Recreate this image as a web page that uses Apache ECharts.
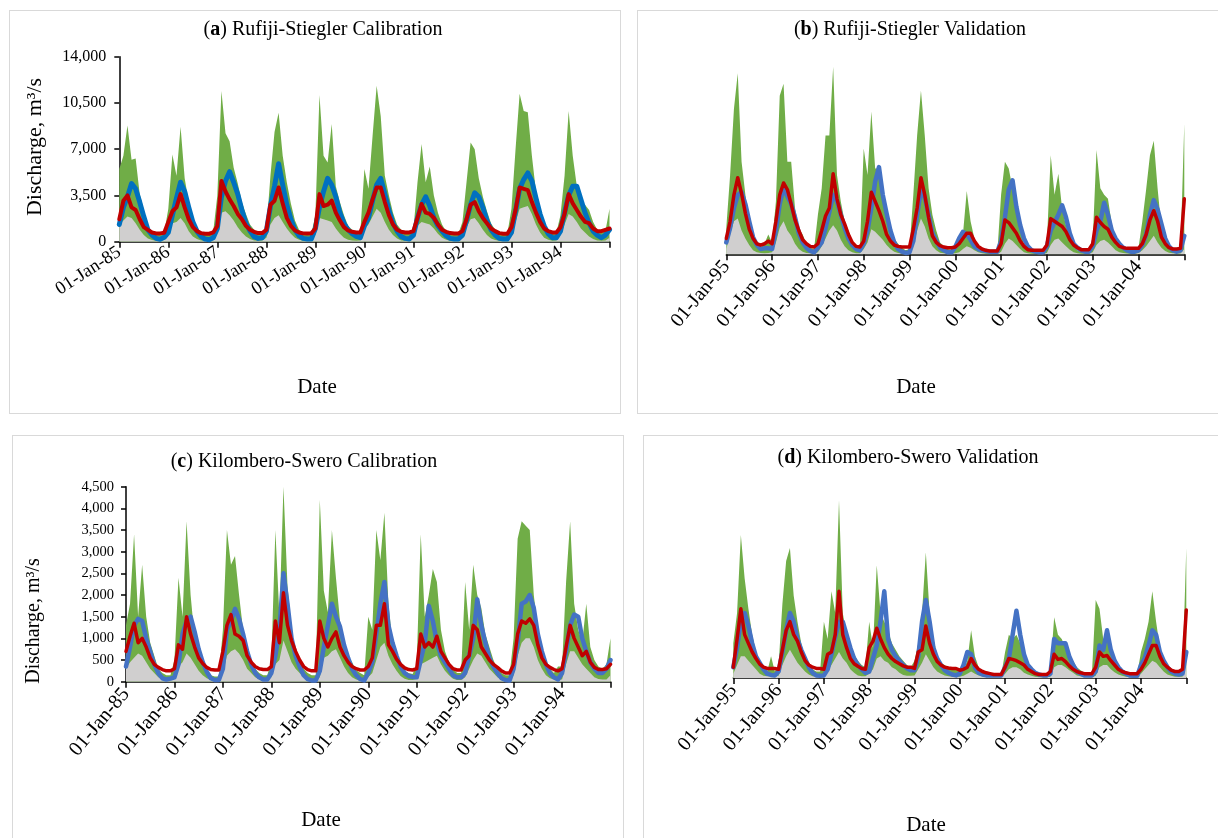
<!DOCTYPE html>
<html>
<head>
<meta charset="utf-8">
<script src="https://cdn.jsdelivr.net/npm/echarts@6/dist/echarts.min.js"></script>
<style>
  body { margin: 0; background: #fff; width: 1218px; height: 838px; position: relative; overflow: hidden; }
  .panel { position: absolute; outline: 1.5px solid #d9d9d9; outline-offset: -1.5px; }
</style>
</head>
<body>
<div id="pa" class="panel" style="left:9px;top:10px;width:612px;height:404px"></div>
<div id="pb" class="panel" style="left:637px;top:10px;width:600px;height:404px"></div>
<div id="pc" class="panel" style="left:12px;top:435px;width:612px;height:410px"></div>
<div id="pd" class="panel" style="left:643px;top:435px;width:600px;height:410px"></div>
<script>
// monthly values (1st of each month), one row per year, last row ends with 1st Jan of the closing year
const calTicks = ['01-Jan-85', '01-Jan-86', '01-Jan-87', '01-Jan-88', '01-Jan-89',
  '01-Jan-90', '01-Jan-91', '01-Jan-92', '01-Jan-93', '01-Jan-94'];
const valTicks = ['01-Jan-95', '01-Jan-96', '01-Jan-97', '01-Jan-98', '01-Jan-99',
  '01-Jan-00', '01-Jan-01', '01-Jan-02', '01-Jan-03', '01-Jan-04'];

// (a) Rufiji-Stiegler calibration
const rufijiCalUpper = [
  5500, 6500, 8800, 6200, 6300, 3600, 2400, 1100, 800, 600, 600, 700,
  2500, 6600, 5000, 8700, 4800, 3000, 1800, 1000, 700, 550, 550, 800,
  3500, 11400, 8200, 7600, 5600, 4400, 3000, 2100, 1300, 900, 700, 700,
  900, 5000, 8300, 9750, 6500, 4500, 2900, 1600, 900, 650, 600, 600,
  2000, 11100, 6500, 6000, 8900, 4200, 3000, 2000, 1200, 900, 700, 700,
  5500, 4000, 8000, 11800, 9500, 5000, 3500, 2200, 1300, 900, 700, 700,
  900, 4500, 7400, 4500, 5700, 3500, 2200, 1300, 800, 600, 600, 600,
  1500, 4500, 7500, 7000, 4800, 3400, 2300, 1400, 900, 700, 600, 600,
  2500, 7000, 11200, 9900, 9800, 6500, 3800, 2500, 1500, 900, 700, 700,
  2000, 5000, 9900, 6500, 4200, 3000, 2800, 2400, 1500, 900, 700, 800, 2500
];
const rufijiCalLower = [
  1300, 1600, 1900, 1800, 1400, 900, 500, 250, 120, 80, 80, 150,
  900, 1400, 1500, 1800, 1400, 800, 400, 200, 100, 80, 80, 150,
  800, 2200, 2300, 2000, 1600, 1100, 700, 400, 200, 100, 80, 100,
  300, 1300, 1800, 2000, 1500, 1000, 600, 300, 150, 80, 80, 100,
  500, 1800, 1700, 1600, 1500, 1000, 600, 300, 150, 100, 80, 100,
  1000, 1300, 1900, 2500, 2200, 1500, 900, 500, 250, 100, 80, 80,
  300, 1200, 1500, 1400, 1300, 1000, 600, 300, 150, 80, 80, 80,
  400, 1100, 1700, 1800, 1400, 900, 500, 250, 120, 80, 80, 80,
  500, 1500, 2500, 2600, 2700, 2100, 1300, 700, 300, 150, 80, 100,
  500, 1300, 2100, 1900, 1500, 1000, 700, 400, 200, 100, 80, 100, 300
];
const rufijiCalObs = [
  1300, 2600, 3400, 4400, 4000, 3000, 1900, 900, 500, 250, 180, 330,
  700, 2000, 3300, 4500, 3800, 2600, 1500, 800, 400, 200, 150, 300,
  1000, 3400, 4600, 5300, 4500, 3600, 2400, 1400, 800, 380, 250, 300,
  800, 2700, 4200, 5900, 4300, 2800, 1700, 900, 450, 250, 200, 200,
  1000, 2600, 3800, 4800, 4300, 3400, 2200, 1400, 900, 600, 400, 300,
  1200, 1800, 3100, 4300, 4800, 3600, 2400, 1400, 800, 400, 250, 200,
  500, 1800, 2800, 3400, 2700, 1800, 1200, 800, 450, 250, 200, 200,
  500, 1600, 2800, 3700, 3400, 2600, 1600, 900, 500, 250, 200, 200,
  700, 2300, 4000, 4700, 5200, 4600, 3300, 2100, 1200, 600, 300, 300,
  800, 2200, 3500, 4200, 4200, 3200, 2200, 1400, 800, 500, 300, 500, 900
];
const rufijiCalSim = [
  1700, 3100, 3500, 2600, 2400, 1700, 1100, 900, 700, 630, 630, 680,
  1500, 2300, 2600, 3600, 2600, 1700, 1100, 800, 650, 600, 600, 700,
  1200, 4600, 3800, 3200, 2700, 2100, 1700, 1200, 900, 750, 650, 650,
  900, 2800, 3100, 4100, 2900, 1800, 1200, 850, 700, 630, 620, 630,
  1000, 3600, 2700, 2800, 3100, 2200, 1600, 1100, 850, 750, 700, 700,
  1500, 2200, 3200, 4100, 4100, 3000, 2000, 1300, 900, 750, 700, 700,
  800, 1800, 2850, 2200, 2100, 1800, 1300, 900, 750, 650, 620, 620,
  800, 1700, 2800, 3000, 2300, 1800, 1400, 1000, 800, 650, 600, 600,
  1100, 2400, 4100, 4000, 3900, 3000, 2200, 1500, 1000, 800, 700, 700,
  1100, 2100, 3600, 2900, 2400, 1900, 1500, 1400, 1000, 800, 800, 900, 1000
];

// (b) Rufiji-Stiegler validation
const rufijiValUpper = [
  2000, 6000, 11000, 13700, 7000, 4500, 2600, 1500, 700, 500, 800, 1500,
  900, 4000, 12000, 12900, 7000, 7000, 3500, 2000, 1500, 800, 500, 400,
  3000, 5000, 9000, 9000, 14200, 6000, 4000, 2500, 1800, 1000, 600, 400,
  8000, 6000, 10800, 6500, 6500, 4500, 3000, 1800, 1200, 800, 500, 300,
  400, 4500, 9000, 12400, 9000, 5000, 3000, 1800, 900, 600, 400, 350,
  400, 900, 1500, 4800, 2500, 1200, 700, 400, 200, 100, 100, 100,
  4500, 7000, 6500, 5000, 3600, 2000, 700, 300, 150, 100, 100, 100,
  900, 7500, 4500, 6100, 3400, 2200, 1300, 600, 300, 200, 150, 150,
  1000, 7900, 5000, 4500, 4200, 2300, 1200, 600, 400, 250, 200, 200,
  500, 2500, 4900, 7500, 8600, 5000, 2000, 1000, 600, 400, 300, 300, 9900
];
const rufijiValLower = [
  400, 1500, 2500, 2700, 1800, 1200, 700, 300, 150, 100, 80, 100,
  150, 900, 2000, 2500, 1800, 1400, 800, 400, 200, 100, 80, 80,
  150, 600, 1200, 1800, 2200, 1800, 1100, 600, 300, 150, 80, 80,
  400, 900, 1900, 1700, 1400, 1100, 700, 400, 200, 100, 60, 60,
  80, 600, 1800, 2700, 2100, 1200, 600, 300, 120, 80, 60, 60,
  80, 150, 400, 600, 500, 300, 150, 80, 50, 30, 30, 30,
  200, 800, 1200, 1000, 700, 400, 150, 80, 50, 30, 30, 30,
  100, 700, 1100, 1200, 900, 600, 350, 150, 80, 50, 40, 40,
  150, 700, 1000, 1100, 900, 600, 300, 150, 100, 60, 50, 50,
  100, 300, 600, 1000, 1400, 900, 500, 250, 120, 80, 60, 60, 400
];
const rufijiValObs = [
  900, 2000, 3500, 4500, 4700, 3800, 2500, 1300, 700, 400, 450, 450,
  400, 1800, 3800, 5000, 4400, 3800, 2800, 1600, 900, 500, 250, 150,
  500, 900, 2000, 3200, 4500, 4000, 3000, 2000, 1200, 700, 400, 300,
  800, 1800, 3500, 5500, 6600, 4500, 3100, 1800, 900, 400, 200, 100,
  150, 1000, 3000, 4800, 4300, 3000, 1600, 1000, 500, 300, 150, 150,
  550, 1200, 1700, 1500, 1100, 600, 400, 300, 250, 200, 200, 200,
  1000, 2800, 4900, 5600, 3600, 2200, 1200, 600, 300, 200, 150, 150,
  600, 1800, 2400, 3000, 3700, 2800, 1600, 800, 500, 300, 200, 200,
  600, 1800, 2500, 3900, 3000, 1800, 1200, 800, 500, 300, 200, 200,
  300, 700, 1500, 3000, 4100, 3400, 2300, 1200, 600, 300, 200, 300, 1400
];
const rufijiValSim = [
  1200, 2500, 4500, 5800, 4600, 3100, 1900, 1200, 800, 700, 800, 1000,
  800, 2500, 4500, 5400, 4900, 3800, 2600, 1800, 1100, 800, 600, 550,
  800, 1800, 2900, 3500, 6100, 4200, 3000, 2300, 1500, 900, 600, 550,
  1000, 2500, 4700, 4000, 3300, 2500, 1500, 1000, 700, 600, 550, 550,
  550, 1900, 3500, 5800, 4500, 2800, 1400, 900, 650, 550, 500, 500,
  550, 800, 1200, 1600, 1600, 1000, 600, 400, 300, 250, 250, 250,
  800, 2600, 2400, 2000, 1600, 1000, 600, 350, 300, 300, 300, 300,
  700, 2700, 2500, 2300, 2100, 1700, 1100, 700, 500, 350, 350, 350,
  800, 2800, 2400, 2100, 1900, 1300, 900, 600, 500, 450, 450, 450,
  450, 800, 1500, 2600, 3300, 2500, 1300, 800, 500, 400, 400, 450, 4200
];

// (c) Kilombero-Swero calibration
const kilomberoCalUpper = [
  1300, 1800, 3400, 1500, 2700, 1500, 900, 600, 300, 200, 150, 150,
  500, 2400, 1500, 3700, 2000, 1000, 700, 450, 250, 150, 120, 120,
  1200, 3500, 2700, 2900, 2000, 1200, 800, 500, 300, 200, 150, 150,
  500, 3500, 1500, 4500, 2200, 1200, 700, 450, 300, 200, 150, 150,
  4200, 2100, 1600, 3500, 2400, 1400, 950, 600, 450, 270, 200, 150,
  1500, 1200, 3500, 2800, 3900, 1800, 900, 600, 350, 250, 200, 180,
  400, 3400, 1500, 2000, 2600, 2300, 1200, 700, 450, 300, 200, 200,
  2300, 1200, 2700, 2000, 1700, 1100, 800, 500, 300, 200, 150, 150,
  1000, 3300, 3700, 3600, 3500, 2000, 1200, 700, 450, 300, 200, 350,
  350, 2300, 3700, 1800, 1200, 900, 1800, 800, 500, 350, 300, 400, 1000
];
const kilomberoCalLower = [
  300, 450, 550, 650, 600, 450, 300, 200, 100, 60, 40, 40,
  60, 350, 450, 650, 550, 400, 250, 150, 80, 40, 30, 30,
  200, 600, 700, 750, 650, 500, 300, 200, 100, 50, 30, 30,
  100, 400, 500, 950, 700, 450, 300, 200, 100, 50, 30, 30,
  100, 550, 600, 700, 750, 550, 350, 200, 100, 50, 30, 30,
  100, 200, 500, 800, 900, 600, 400, 250, 130, 70, 40, 40,
  60, 400, 450, 500, 550, 600, 400, 250, 150, 70, 40, 40,
  100, 300, 500, 650, 600, 450, 300, 200, 100, 50, 30, 30,
  150, 600, 900, 1000, 1000, 800, 500, 300, 150, 80, 50, 50,
  50, 400, 700, 700, 550, 400, 300, 200, 100, 60, 50, 50, 150
];
const kilomberoCalObs = [
  350, 800, 1300, 1450, 1400, 1000, 700, 400, 200, 80, 50, 70,
  100, 400, 1100, 1400, 1500, 1150, 750, 450, 230, 80, 40, 40,
  300, 1200, 1400, 1680, 1450, 1100, 700, 400, 200, 100, 50, 50,
  200, 600, 1200, 2500, 1800, 1000, 600, 350, 150, 60, 30, 30,
  250, 800, 1300, 1800, 1500, 1270, 850, 550, 300, 150, 60, 30,
  200, 450, 1100, 1800, 2300, 1300, 900, 600, 350, 200, 130, 110,
  100, 500, 900, 1750, 1400, 900, 600, 450, 300, 150, 100, 100,
  200, 600, 1000, 1900, 1300, 900, 550, 350, 200, 80, 40, 30,
  300, 900, 1800, 1850, 2000, 1700, 1100, 700, 400, 200, 100, 50,
  200, 700, 1300, 1550, 1500, 1000, 700, 450, 300, 200, 200, 300, 500
];
const kilomberoCalSim = [
  700, 1050, 1350, 900, 1000, 800, 550, 400, 330, 280, 250, 250,
  300, 850, 750, 1500, 1100, 800, 550, 420, 330, 280, 270, 270,
  700, 1300, 1550, 1100, 1050, 950, 600, 450, 350, 300, 280, 280,
  350, 1400, 900, 2050, 1300, 950, 700, 500, 350, 280, 250, 250,
  1400, 1000, 800, 1000, 1150, 800, 600, 450, 350, 300, 270, 270,
  350, 550, 1300, 1300, 1800, 850, 700, 520, 400, 320, 280, 270,
  300, 1100, 800, 900, 800, 1050, 700, 550, 400, 300, 270, 270,
  500, 600, 1300, 1200, 800, 650, 500, 400, 330, 250, 200, 200,
  400, 1100, 1400, 1350, 1450, 1300, 850, 550, 400, 330, 280, 250,
  300, 800, 1300, 1000, 800, 600, 700, 450, 330, 280, 280, 300, 400
];

// (d) Kilombero-Swero validation
const kilomberoValUpper = [
  800, 1500, 3300, 2300, 1600, 1000, 600, 350, 200, 150, 500, 150,
  300, 1700, 2700, 3000, 1900, 1300, 800, 450, 300, 200, 150, 150,
  1300, 900, 2000, 1500, 4100, 1500, 1000, 800, 550, 400, 300, 250,
  1300, 700, 2600, 1500, 1300, 1100, 800, 650, 500, 400, 300, 250,
  400, 800, 1500, 2900, 1500, 900, 550, 350, 300, 250, 220, 200,
  150, 200, 400, 1100, 500, 250, 150, 100, 80, 80, 80, 80,
  600, 1000, 900, 1000, 800, 500, 350, 250, 150, 100, 80, 80,
  200, 1400, 1000, 900, 700, 550, 400, 250, 180, 120, 100, 100,
  1800, 1600, 900, 950, 650, 450, 300, 200, 150, 100, 100, 100,
  600, 900, 1300, 2000, 1300, 700, 450, 300, 200, 150, 120, 150, 3000
];
const kilomberoValLower = [
  100, 300, 500, 500, 400, 300, 200, 100, 50, 40, 40, 40,
  50, 300, 500, 650, 500, 350, 250, 150, 80, 40, 30, 30,
  80, 150, 300, 450, 600, 450, 350, 200, 120, 60, 40, 40,
  100, 200, 450, 500, 400, 350, 250, 200, 120, 70, 50, 50,
  60, 200, 350, 550, 400, 250, 150, 100, 60, 40, 30, 30,
  30, 50, 100, 150, 100, 60, 40, 30, 20, 20, 20, 20,
  100, 200, 250, 250, 200, 120, 80, 50, 30, 20, 20, 20,
  30, 250, 300, 300, 250, 180, 120, 60, 40, 30, 20, 20,
  50, 250, 300, 300, 200, 130, 80, 50, 30, 20, 20, 20,
  100, 200, 300, 400, 350, 250, 150, 80, 50, 30, 30, 30, 300
];
const kilomberoValObs = [
  250, 700, 1300, 1500, 1200, 800, 500, 350, 200, 100, 70, 60,
  150, 600, 1100, 1500, 1300, 900, 650, 450, 250, 120, 60, 50,
  60, 200, 550, 950, 1300, 1300, 1000, 700, 450, 300, 200, 120,
  150, 450, 750, 1300, 2000, 900, 650, 500, 400, 300, 220, 180,
  180, 500, 1300, 1800, 1300, 700, 450, 300, 180, 120, 80, 60,
  100, 300, 600, 550, 250, 120, 80, 60, 60, 60, 60, 60,
  250, 450, 1000, 1550, 1000, 550, 300, 200, 120, 80, 60, 60,
  100, 900, 800, 800, 800, 500, 300, 150, 100, 60, 60, 60,
  150, 750, 650, 1100, 650, 400, 250, 150, 100, 60, 50, 50,
  300, 450, 750, 1100, 1000, 600, 400, 250, 150, 100, 80, 100, 600
];
const kilomberoValSim = [
  250, 900, 1600, 1000, 800, 600, 450, 320, 250, 220, 220, 220,
  200, 650, 1100, 1300, 1000, 850, 600, 400, 300, 250, 220, 220,
  200, 550, 600, 1000, 2000, 1000, 700, 450, 330, 270, 220, 200,
  700, 850, 1150, 900, 700, 550, 450, 380, 330, 280, 250, 250,
  220, 600, 650, 1200, 800, 550, 380, 300, 250, 230, 220, 220,
  180, 200, 250, 450, 300, 200, 150, 120, 100, 80, 80, 80,
  250, 450, 430, 400, 350, 300, 200, 150, 100, 80, 80, 80,
  150, 550, 430, 450, 380, 280, 200, 150, 120, 100, 100, 100,
  250, 600, 500, 520, 400, 300, 200, 150, 120, 100, 100, 100,
  200, 350, 550, 750, 750, 500, 330, 250, 180, 150, 150, 200, 1570
];

const SERIF = '"Liberation Serif", "DejaVu Serif", serif';
const GREEN = '#70ad47';
const GREY = '#d0cfcf';
const RED = '#c00000';

function toPoints(start, values) {
  return values.map((v, i) => [start + i / 12, v]);
}

function bandSeries(data, color) {
  return {
    type: 'line', data, symbol: 'none', silent: true,
    lineStyle: {width: 0},
    areaStyle: {color, opacity: 1}
  };
}

function lineSeries(data, color, width) {
  return {
    type: 'line', data, symbol: 'none', silent: true,
    lineStyle: {color, width, join: 'round', cap: 'round'}
  };
}

function drawPanel(p) {
  const chart = echarts.init(document.getElementById(p.id));
  const graphic = [
    {
      type: 'text', x: p.titlePos[0], y: p.titlePos[1],
      style: {
        text: '({b|' + p.letter + '}) ' + p.name,
        fill: '#000', fontFamily: SERIF, fontSize: 20,
        align: 'center', verticalAlign: 'middle',
        rich: {b: {fontWeight: 'bold', fontFamily: SERIF, fontSize: 20, fill: '#000'}}
      }
    },
    {
      type: 'text', x: p.datePos[0], y: p.datePos[1],
      style: {text: 'Date', fill: '#000', fontFamily: SERIF, fontSize: 21, align: 'center', verticalAlign: 'middle'}
    }
  ];
  if (p.yName) {
    graphic.push({
      type: 'text', x: p.yName[0], y: p.yName[1], rotation: Math.PI / 2,
      style: {text: 'Discharge, m\u00b3/s', fill: '#000', fontFamily: SERIF, fontSize: p.yName[2],
        align: 'center', verticalAlign: 'middle'}
    });
  }
  chart.setOption({
    animation: false,
    grid: {left: p.grid[0], top: p.grid[1], width: p.grid[2], height: p.grid[3],
      containLabel: false, outerBoundsMode: 'none'},
    xAxis: {
      type: 'value', min: p.start, max: p.start + 10, interval: 1,
      axisLine: {show: true, onZero: false, lineStyle: {color: '#000', width: 1.5}},
      axisTick: {show: true, length: 6, lineStyle: {color: '#000', width: 1.5}},
      splitLine: {show: false},
      axisLabel: {
        rotate: p.label[0], margin: 9, color: '#000', fontFamily: SERIF, fontSize: p.label[1],
        formatter: v => p.ticks[Math.round(v - p.start)] || ''
      }
    },
    yAxis: {
      type: 'value', min: 0, max: p.yMax, interval: p.yStep, show: p.showY,
      axisLine: {show: true, lineStyle: {color: '#000', width: 1.5}},
      axisTick: {show: true, length: 5, lineStyle: {color: '#000', width: 1.5}},
      splitLine: {show: false},
      axisLabel: {color: '#000', fontFamily: SERIF, fontSize: p.yFont, margin: p.yMargin,
        formatter: v => v.toLocaleString('en-US')}
    },
    graphic,
    series: [
      bandSeries(toPoints(p.start, p.upper), GREEN),
      bandSeries(toPoints(p.start, p.lower), GREY),
      lineSeries(toPoints(p.start, p.obs), p.blue, p.blueWidth),
      lineSeries(toPoints(p.start, p.sim), RED, p.redWidth)
    ]
  });
}

drawPanel({
  id: 'pa', letter: 'a', name: 'Rufiji-Stiegler Calibration', start: 1985, ticks: calTicks,
  upper: rufijiCalUpper, lower: rufijiCalLower, obs: rufijiCalObs, sim: rufijiCalSim,
  blue: '#0070c0', blueWidth: 5, redWidth: 4, label: [33, 18.5],
  grid: [110.3, 46.7, 490.2, 185], yMax: 14000, yStep: 3500, showY: true, yFont: 16, yMargin: 13,
  titlePos: [314, 20], datePos: [308, 377], yName: [26, 137, 22]
});
drawPanel({
  id: 'pb', letter: 'b', name: 'Rufiji-Stiegler Validation', start: 1995, ticks: valTicks,
  upper: rufijiValUpper, lower: rufijiValLower, obs: rufijiValObs, sim: rufijiValSim,
  blue: '#4472c4', blueWidth: 4.5, redWidth: 3.5, label: [50, 20],
  grid: [89.3, 46.1, 458, 198.2], yMax: 15000, yStep: 3000, showY: false,
  titlePos: [273, 20], datePos: [279, 377]
});
drawPanel({
  id: 'pc', letter: 'c', name: 'Kilombero-Swero Calibration', start: 1985, ticks: calTicks,
  upper: kilomberoCalUpper, lower: kilomberoCalLower, obs: kilomberoCalObs, sim: kilomberoCalSim,
  blue: '#4472c4', blueWidth: 4.5, redWidth: 3.5, label: [50, 20.5],
  grid: [114, 51.7, 484.5, 195], yMax: 4500, yStep: 500, showY: true, yFont: 14.5, yMargin: 12,
  titlePos: [292, 27], datePos: [309, 385], yName: [22, 186, 20]
});
drawPanel({
  id: 'pd', letter: 'd', name: 'Kilombero-Swero Validation', start: 1995, ticks: valTicks,
  upper: kilomberoValUpper, lower: kilomberoValLower, obs: kilomberoValObs, sim: kilomberoValSim,
  blue: '#4472c4', blueWidth: 4.5, redWidth: 3.5, label: [50, 20],
  grid: [90.3, 48, 453, 195], yMax: 4500, yStep: 500, showY: false,
  titlePos: [265, 23], datePos: [283, 390]
});
</script>
</body>
</html>
